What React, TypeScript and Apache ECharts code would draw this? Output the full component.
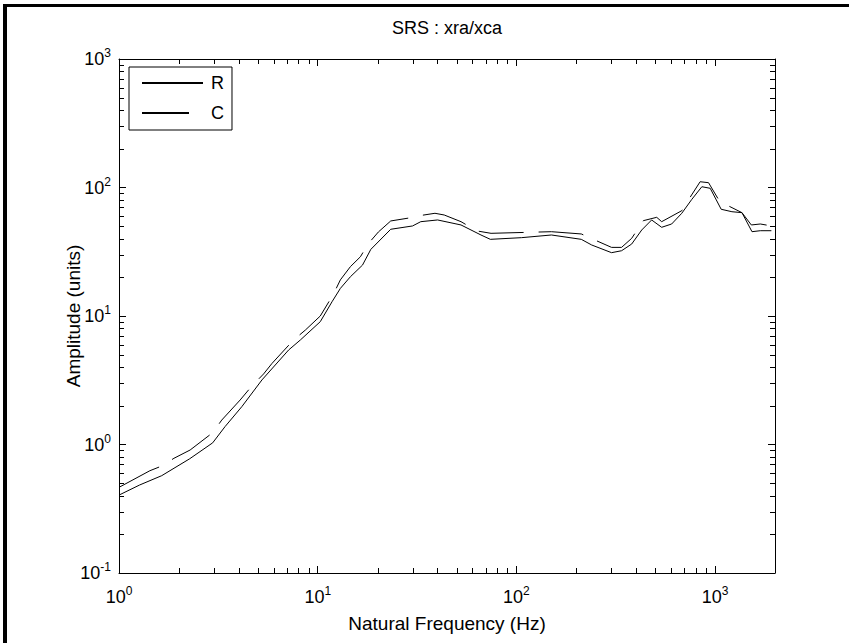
import React, { useEffect, useRef } from "react";
import * as echarts from "echarts";

// ---- data ----
const freqR = [1, 1.27, 1.64, 2.27, 2.96, 3.42, 4.15, 5.24, 7.14, 8.18, 10.3, 11.8, 13.0, 14.6, 16.8, 18.5, 23.3, 30.0, 33.0, 40.1, 52.6, 66.3, 73.9, 106, 150, 212, 239, 301, 338, 380, 427, 479, 538, 604, 679, 763, 857, 944, 1072, 1214, 1364, 1532, 1687, 1918];
const ampR = [0.404, 0.484, 0.572, 0.775, 1.03, 1.38, 1.97, 3.18, 5.44, 6.51, 9.03, 12.9, 16.4, 20.2, 24.9, 33.0, 47.3, 50.2, 54.2, 55.9, 51.1, 42.7, 39.5, 40.7, 42.7, 39.5, 35.7, 31.1, 32.2, 36.3, 46.7, 55.9, 49.0, 52.0, 63.0, 80.9, 101.4, 98.6, 67.7, 64.8, 63.7, 45.3, 46.1, 46.1];

const freqC = [1, 1.43, 1.64, 1.89, 2.28, 2.96, 3.29, 4.07, 4.66, 5.34, 5.89, 7.56, 8.67, 10.3, 12.0, 13.0, 14.6, 16.4, 17.9, 20.2, 23.3, 29.4, 32.4, 38.9, 43.3, 52.6, 63.3, 74.5, 128, 150, 212, 253, 301, 338, 380, 435, 508, 538, 679, 748, 840, 926, 1072, 1169, 1364, 1520, 1687, 1897];
const ampC = [0.464, 0.625, 0.68, 0.781, 0.906, 1.235, 1.55, 2.22, 2.85, 3.54, 4.28, 6.51, 7.78, 10.0, 14.8, 19.1, 24.2, 28.9, 36.3, 45.1, 54.9, 58.2, 60.3, 63.0, 61.1, 54.2, 45.9, 44.0, 45.0, 45.3, 43.5, 38.5, 34.2, 34.2, 40.2, 55.2, 58.6, 54.2, 66.0, 83.9, 110.9, 109, 74.4, 71.8, 63.7, 51.1, 52.0, 50.4];

const seriesNames = ["R", "C"];
const xTickExponents = [0, 1, 2, 3];
const yTickExponents = [-1, 0, 1, 2, 3];
const xMinorTicks = [2, 3, 4, 5, 6, 7, 8, 9, 20, 30, 40, 50, 60, 70, 80, 90, 200, 300, 400, 500, 600, 700, 800, 900];
const yMinorTicks = [0.2, 0.3, 0.4, 0.5, 0.6, 0.7, 0.8, 0.9, 2, 3, 4, 5, 6, 7, 8, 9, 20, 30, 40, 50, 60, 70, 80, 90, 200, 300, 400, 500, 600, 700, 800, 900];

const X_MIN = 1;
const X_MAX = 2000;
const Y_MIN = 0.1;
const Y_MAX = 1000;

const titleText = "SRS : xra/xca";
const xLabelText = "Natural Frequency (Hz)";
const yLabelText = "Amplitude (units)";

const FONT = "'Liberation Sans', Arial, Helvetica, sans-serif";

function pow10Label(exps: number[]) {
  return (v: number) => {
    const e = Math.round(Math.log10(v));
    if (Math.abs(Math.log10(v) - e) > 1e-6 || exps.indexOf(e) < 0) return "";
    return `{b|10}{s|${e}}`;
  };
}

const richLabel = {
  b: { fontSize: 18, fontFamily: FONT, color: "#000" },
  s: { fontSize: 12, fontFamily: FONT, color: "#000", padding: [0, 0, 12, 0] },
};

export default function App() {
  const ref = useRef<HTMLDivElement>(null);

  useEffect(() => {
    if (!ref.current) return;
    const chart = echarts.init(ref.current, undefined, { renderer: "svg" });

    const axisLine = { show: true, lineStyle: { color: "#000", width: 1 } };
    const axisTick = { show: true, inside: true, length: 7, lineStyle: { color: "#000", width: 1 } };

    const tickLine = (x1: number, y1: number, x2: number, y2: number) => ({
      type: "line",
      shape: { x1, y1, x2, y2 },
      style: { stroke: "#000", lineWidth: 1 },
    });

    const option: any = {
      animation: false,
      backgroundColor: "#fff",
      grid: { left: 119, top: 59, width: 656, height: 514, containLabel: false },
      legend: {
        data: [seriesNames[0], { name: seriesNames[1], lineStyle: { type: [47, 20] } }],
        orient: "vertical",
        left: 129,
        top: 67,
        padding: [7, 8, 8, 12],
        itemWidth: 61,
        itemHeight: 13,
        itemGap: 12,
        borderColor: "#000",
        borderWidth: 1,
        backgroundColor: "#fff",
        selectedMode: false,
        itemStyle: { opacity: 0, borderWidth: 0 },
        textStyle: { fontSize: 18, fontFamily: FONT, color: "#000", padding: [0, 0, 0, 3] },
      },
      xAxis: [
        {
          type: "log",
          logBase: 10,
          min: X_MIN,
          max: X_MAX,
          position: "bottom",
          axisLine,
          axisTick,
          splitLine: { show: false },
          axisLabel: {
            show: true,
            margin: 12,
            showMaxLabel: false,
            formatter: pow10Label(xTickExponents),
            rich: richLabel,
          },
        },
        {
          type: "log",
          logBase: 10,
          min: X_MIN,
          max: X_MAX,
          position: "top",
          axisLine,
          axisTick,
          splitLine: { show: false },
          axisLabel: { show: false },
        },
      ],
      yAxis: [
        {
          type: "log",
          logBase: 10,
          min: Y_MIN,
          max: Y_MAX,
          position: "left",
          axisLine,
          axisTick,
          splitLine: { show: false },
          axisLabel: {
            show: true,
            margin: 8,
            formatter: pow10Label(yTickExponents),
            rich: richLabel,
          },
        },
        {
          type: "log",
          logBase: 10,
          min: Y_MIN,
          max: Y_MAX,
          position: "right",
          axisLine,
          axisTick,
          splitLine: { show: false },
          axisLabel: { show: false },
        },
      ],
      series: [
        {
          name: seriesNames[0],
          type: "line",
          data: freqR.map((f, i) => [f, ampR[i]]),
          symbol: "none",
          showSymbol: false,
          lineStyle: { color: "#000", width: 1, type: "solid" },
          itemStyle: { color: "#000" },
          silent: true,
        },
        {
          name: seriesNames[1],
          type: "line",
          data: freqC.map((f, i) => [f, ampC[i]]),
          symbol: "none",
          showSymbol: false,
          lineStyle: { color: "#000", width: 1, type: [45, 15] },
          itemStyle: { color: "#000" },
          silent: true,
        },
        {
          type: "custom",
          silent: true,
          clip: false,
          data: xMinorTicks.map((v) => [v, 1]),
          renderItem: (params: any, api: any) => {
            const v = api.value(0);
            const b = api.coord([v, Y_MIN]);
            const t = api.coord([v, Y_MAX]);
            const x = Math.round(b[0]) + 0.5;
            return {
              type: "group",
              children: [tickLine(x, b[1], x, b[1] - 5), tickLine(x, t[1], x, t[1] + 5)],
            };
          },
        },
        {
          type: "custom",
          silent: true,
          clip: false,
          data: yMinorTicks.map((v) => [10, v]),
          renderItem: (params: any, api: any) => {
            const v = api.value(1);
            const l = api.coord([X_MIN, v]);
            const r = api.coord([X_MAX, v]);
            const y = Math.round(l[1]) + 0.5;
            return {
              type: "group",
              children: [tickLine(l[0], y, l[0] + 5, y), tickLine(r[0], y, r[0] - 5, y)],
            };
          },
        },
      ],
      graphic: [
        { type: "rect", shape: { x: 3, y: 4, width: 4, height: 639 }, style: { fill: "#000" }, silent: true },
        { type: "rect", shape: { x: 3, y: 4, width: 846, height: 3 }, style: { fill: "#000" }, silent: true },
        {
          type: "text",
          x: 447,
          y: 28,
          style: { text: titleText, fontSize: 18, fontFamily: FONT, fill: "#000", align: "center", verticalAlign: "middle" },
          silent: true,
        },
        {
          type: "text",
          x: 447,
          y: 623,
          style: { text: xLabelText, fontSize: 19, fontFamily: FONT, fill: "#000", align: "center", verticalAlign: "middle" },
          silent: true,
        },
        {
          type: "text",
          x: 73,
          y: 316,
          rotation: Math.PI / 2,
          style: { text: yLabelText, fontSize: 19, fontFamily: FONT, fill: "#000", align: "center", verticalAlign: "middle" },
          silent: true,
        },
      ],
    };

    chart.setOption(option);
    return () => {
      chart.dispose();
    };
  }, []);

  return (
    <div
      ref={ref}
      style={{ position: "absolute", left: 0, top: 0, width: 849, height: 643, background: "#fff" }}
    />
  );
}
